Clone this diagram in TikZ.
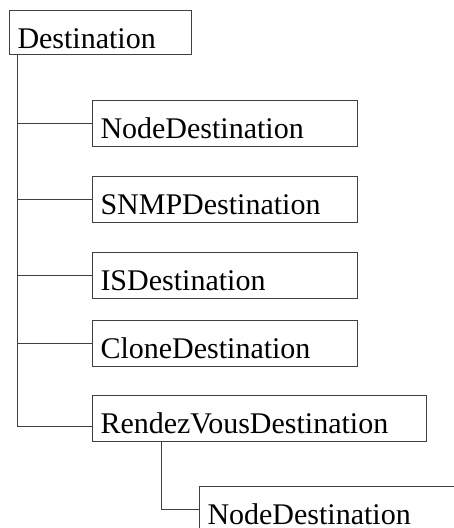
\documentclass[tikz,border=0pt]{standalone}
\usepackage{fontspec}
\setmainfont{Liberation Serif}
\usetikzlibrary{calc}
\begin{document}
\begin{tikzpicture}[x=1pt,y=-1pt,
  box/.style={draw=black!75, line width=1pt, inner xsep=8pt, inner ysep=0pt,
    text height=38pt, text depth=8pt, align=left, anchor=north west,
    font=\fontsize{30}{36}\selectfont},
  link/.style={draw=black!75, line width=1pt}]
\useasboundingbox (0,0) rectangle (454,528);
\clip (0,0) rectangle (454,528);
\node[box, text width=166pt, text depth=6pt] (dest) at (9,10) {Destination};
\node[box, text width=249pt] (nd) at (92,100) {NodeDestination};
\node[box, text width=249pt] (snmp) at (92,176) {SNMPDestination};
\node[box, text width=249pt] (is) at (92,252) {ISDestination};
\node[box, text width=249pt] (clone) at (92,320) {CloneDestination};
\node[box, text width=318pt] (rv) at (92,395) {RendezVousDestination};
\node[box, text width=260pt] (nd2) at (199,486) {NodeDestination};
\coordinate (t) at ($(dest.south west)+(8,0)$);
\coordinate (rvin) at ($(rv.south west)+(0,-16)$);
\coordinate (t2) at ($(rv.south west)+(69,0)$);
\coordinate (nd2in) at ($(nd2.north west)+(0,23)$);
\draw[link] (t) |- (nd.west);
\draw[link] (t) |- (snmp.west);
\draw[link] (t) |- (is.west);
\draw[link] (t) |- (clone.west);
\draw[link] (t) |- (rvin);
\draw[link] (t2) |- (nd2in);
\end{tikzpicture}
\end{document}
